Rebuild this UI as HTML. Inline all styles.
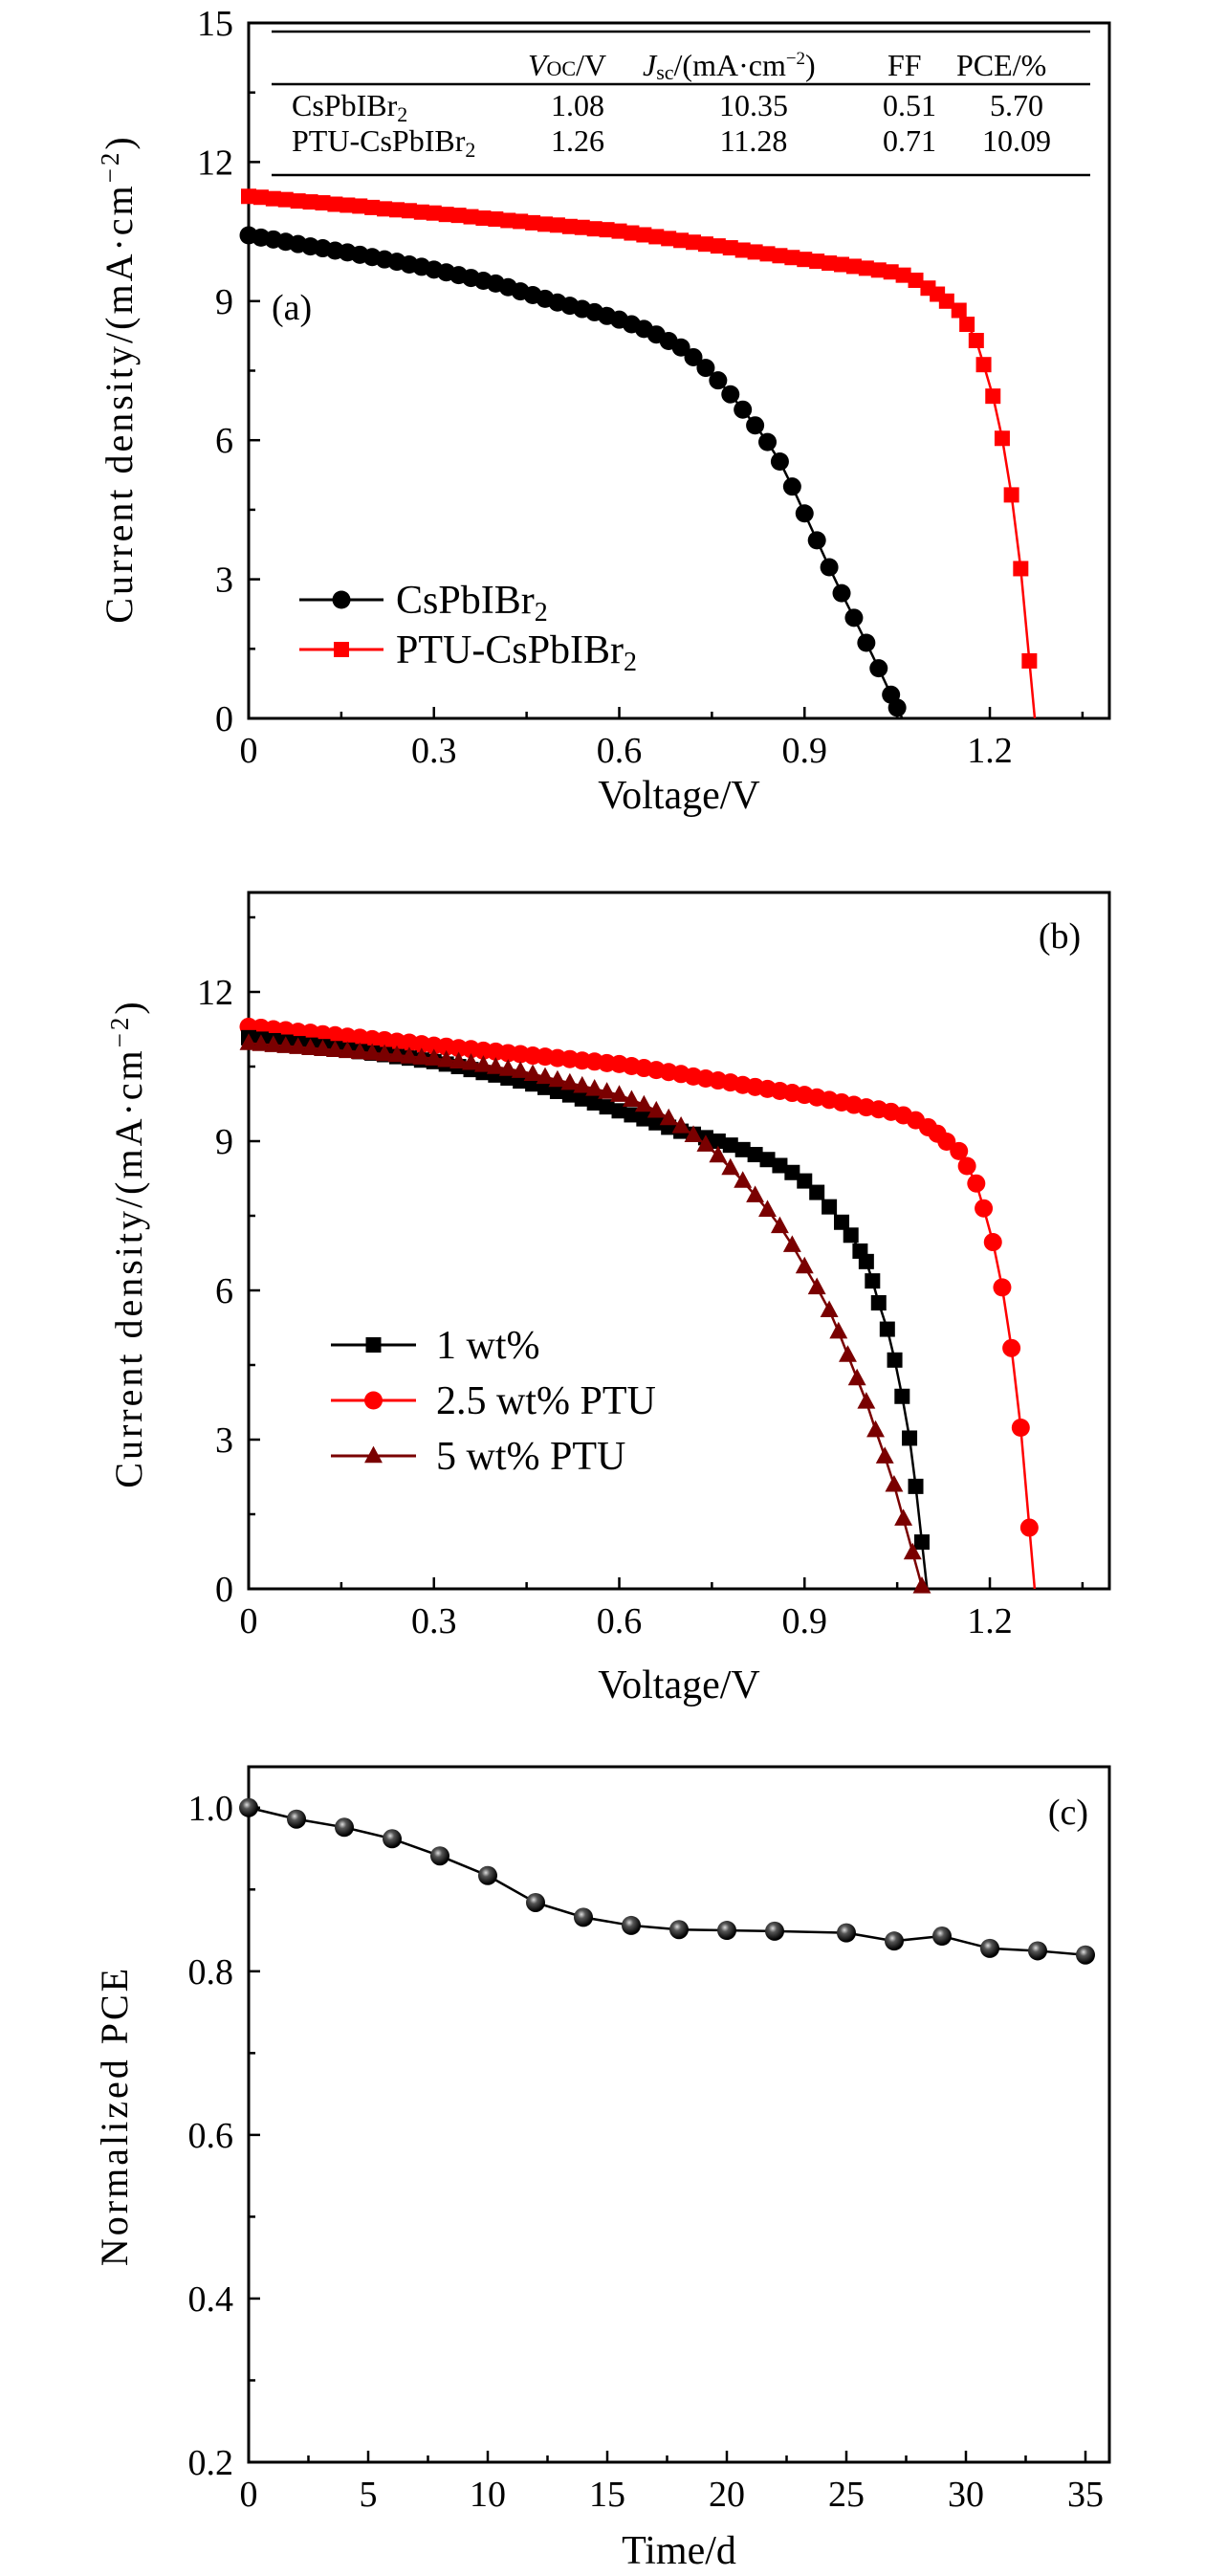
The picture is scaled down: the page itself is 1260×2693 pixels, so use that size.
<!DOCTYPE html>
<html><head><meta charset="utf-8"><style>
html,body{margin:0;padding:0;background:#fff;}
svg{display:block;font-family:"Liberation Serif",serif;}
text{fill:#000;}
</style></head><body>
<svg id="fig" width="1260" height="2693" viewBox="0 0 1260 2693" xmlns="http://www.w3.org/2000/svg">
<defs>
<radialGradient id="ball" cx="0.4" cy="0.35" r="0.6">
<stop offset="0" stop-color="#ddd"/><stop offset="0.35" stop-color="#555"/><stop offset="1" stop-color="#000"/>
</radialGradient>
</defs>
</svg>
<script>
// ---------- Panel (a) data ----------
const aBlackV=[0,.02,.04,.06,.08,.10,.12,.14,.16,.18,.20,.22,.24,.26,.28,.30,.32,.34,.36,.38,.40,.42,.44,.46,.48,.50,.52,.54,.56,.58,.60,.62,.64,.66,.68,.70,.72,.74,.76,.78,.80,.82,.84,.86,.88,.90,.92,.94,.96,.98,1.00,1.02,1.04,1.05];
const aBlackJ=[10.42,10.37,10.33,10.28,10.23,10.18,10.14,10.09,10.05,10.0,9.95,9.90,9.85,9.79,9.74,9.68,9.62,9.56,9.50,9.44,9.38,9.30,9.21,9.13,9.05,8.97,8.90,8.83,8.76,8.68,8.60,8.50,8.40,8.28,8.14,8.00,7.79,7.56,7.29,6.99,6.66,6.32,5.96,5.54,5.00,4.42,3.84,3.26,2.70,2.17,1.63,1.08,0.51,0.23];
const aRedV=[0,.02,.04,.06,.08,.10,.12,.14,.16,.18,.20,.22,.24,.26,.28,.30,.32,.34,.36,.38,.40,.42,.44,.46,.48,.50,.52,.54,.56,.58,.60,.62,.64,.66,.68,.70,.72,.74,.76,.78,.80,.82,.84,.86,.88,.90,.92,.94,.96,.98,1.00,1.02,1.04,1.06,1.08,1.10,1.115,1.13,1.15,1.163,1.178,1.19,1.205,1.22,1.235,1.25,1.264];
const aRedJ=[11.26,11.24,11.21,11.19,11.16,11.14,11.12,11.09,11.07,11.05,11.02,10.99,10.97,10.95,10.92,10.90,10.87,10.85,10.82,10.79,10.77,10.74,10.72,10.69,10.66,10.64,10.61,10.59,10.56,10.54,10.51,10.47,10.43,10.39,10.35,10.31,10.27,10.23,10.19,10.15,10.10,10.06,10.02,9.98,9.94,9.90,9.86,9.82,9.79,9.75,9.71,9.67,9.63,9.56,9.45,9.28,9.15,9.0,8.8,8.5,8.15,7.63,6.95,6.04,4.82,3.23,1.24];
const aXTicks=[0,0.3,0.6,0.9,1.2];
const aXTickLabels=["0","0.3","0.6","0.9","1.2"];
const aYTicks=[0,3,6,9,12,15];
const aYTickLabels=["0","3","6","9","12","15"];
// ---------- Panel (b) data ----------
const b1V=[0,.02,.04,.06,.08,.10,.12,.14,.16,.18,.20,.22,.24,.26,.28,.30,.32,.34,.36,.38,.40,.42,.44,.46,.48,.50,.52,.54,.56,.58,.60,.62,.64,.66,.68,.70,.72,.74,.76,.78,.80,.82,.84,.86,.88,.90,.92,.94,.96,.975,.99,1.0,1.01,1.02,1.034,1.046,1.058,1.07,1.08,1.09];
const b1J=[11.08,11.05,11.02,10.99,10.96,10.93,10.90,10.86,10.83,10.80,10.77,10.74,10.70,10.67,10.63,10.60,10.55,10.50,10.44,10.38,10.33,10.27,10.21,10.15,10.08,10.00,9.93,9.85,9.77,9.69,9.61,9.53,9.45,9.37,9.28,9.20,9.14,9.07,9.00,8.92,8.83,8.73,8.63,8.51,8.37,8.20,7.97,7.68,7.37,7.11,6.79,6.58,6.19,5.75,5.22,4.6,3.87,3.03,2.06,0.94];
const b25V=aRedV;
const b25J=[11.30,11.28,11.25,11.23,11.20,11.18,11.15,11.13,11.10,11.08,11.05,11.03,11.00,10.98,10.95,10.92,10.90,10.87,10.85,10.82,10.80,10.77,10.75,10.72,10.70,10.67,10.65,10.62,10.60,10.57,10.55,10.51,10.47,10.43,10.39,10.35,10.30,10.26,10.22,10.18,10.13,10.09,10.05,10.01,9.97,9.93,9.88,9.83,9.78,9.73,9.68,9.64,9.59,9.52,9.42,9.28,9.15,8.99,8.8,8.5,8.15,7.65,6.97,6.06,4.84,3.24,1.23];
const b5V=[0,.02,.04,.06,.08,.10,.12,.14,.16,.18,.20,.22,.24,.26,.28,.30,.32,.34,.36,.38,.40,.42,.44,.46,.48,.50,.52,.54,.56,.58,.60,.62,.64,.66,.68,.70,.72,.74,.76,.78,.80,.82,.84,.86,.88,.90,.92,.94,.955,.97,.985,1.0,1.015,1.03,1.045,1.06,1.075,1.09];
const b5J=[10.97,10.95,10.93,10.91,10.89,10.87,10.85,10.83,10.81,10.79,10.77,10.75,10.73,10.70,10.68,10.66,10.63,10.60,10.57,10.53,10.49,10.45,10.41,10.35,10.29,10.23,10.17,10.11,10.05,9.99,9.93,9.83,9.73,9.61,9.46,9.30,9.12,8.93,8.71,8.46,8.20,7.91,7.62,7.29,6.91,6.48,6.06,5.60,5.17,4.70,4.23,3.76,3.19,2.66,2.09,1.41,0.73,0.05];
const bYTicks=[0,3,6,9,12];
const bYTickLabels=["0","3","6","9","12"];
// ---------- Panel (c) data ----------
const cDays=[0,2,4,6,8,10,12,14,16,18,20,22,25,27,29,31,33,35];
const cPCE=[1.0,0.986,0.976,0.962,0.941,0.917,0.884,0.866,0.856,0.851,0.850,0.849,0.847,0.837,0.843,0.828,0.825,0.820];
const cXTicks=[0,5,10,15,20,25,30,35];
const cXTickLabels=["0","5","10","15","20","25","30","35"];
const cYTicks=[0.2,0.4,0.6,0.8,1.0];
const cYTickLabels=["0.2","0.4","0.6","0.8","1.0"];

const NS="http://www.w3.org/2000/svg";
const svg=document.getElementById('fig');
function mk(tag,attrs,parent){const e=document.createElementNS(NS,tag);for(const k in attrs)e.setAttribute(k,attrs[k]);(parent||svg).appendChild(e);return e;}
function txt(s,attrs,parent){const e=mk('text',attrs,parent);e.textContent=s;return e;}

const L=260,R=1160;
function makeAxes(top,bot,xmin,xmax,ymin,ymax){
  return {x:v=>L+(v-xmin)/(xmax-xmin)*(R-L), y:v=>bot-(v-ymin)/(ymax-ymin)*(bot-top), top:top, bot:bot};
}
function frame(ax,name){
  const g=mk('g',{});
  
  
  mk('rect',{x:L,y:ax.top,width:R-L,height:ax.bot-ax.top,fill:'none',stroke:'#000','stroke-width':3},g);
  return g;
}
function xTicks(ax,ticks,labels,minor,name){
  const g=mk('g',{});
  
  
  ticks.forEach((t,i)=>{
    const x=ax.x(t);
    mk('line',{x1:x,x2:x,y1:ax.bot,y2:ax.bot-12,stroke:'#000','stroke-width':2.5},g);
    const tl=txt(labels[i],{x:x,y:ax.bot+46,'text-anchor':'middle','font-size':38},g);
    
    
  });
  minor.forEach(t=>{const x=ax.x(t);mk('line',{x1:x,x2:x,y1:ax.bot,y2:ax.bot-7,stroke:'#000','stroke-width':2.5},g);});
}
function yTicks(ax,ticks,labels,minor,name){
  const g=mk('g',{});
  
  
  ticks.forEach((t,i)=>{
    const y=ax.y(t);
    mk('line',{x1:L,x2:L+12,y1:y,y2:y,stroke:'#000','stroke-width':2.5},g);
    const tl=txt(labels[i],{x:L-16,y:y+13,'text-anchor':'end','font-size':38},g);
    
    
  });
  minor.forEach(t=>{const y=ax.y(t);mk('line',{x1:L,x2:L+7,y1:y,y2:y,stroke:'#000','stroke-width':2.5},g);});
}
function line(ax,V,J,color,extend,g){
  const pts=V.map((v,i)=>ax.x(v)+','+ax.y(J[i]));
  if(extend){const n=V.length;const v0=V[n-2],v1=V[n-1],j0=J[n-2],j1=J[n-1];const vz=v1+j1*(v1-v0)/(j0-j1);pts.push(ax.x(vz)+','+ax.y(0));}
  mk('polyline',{points:pts.join(' '),fill:'none',stroke:color,'stroke-width':2.5},g);
}
function marker(type,x,y,color,g,s){
  if(type==='circle') return mk('circle',{cx:x,cy:y,r:s,fill:color},g);
  if(type==='square') return mk('rect',{x:x-s,y:y-s,width:2*s,height:2*s,fill:color},g);
  if(type==='tri') return mk('polygon',{points:`${x},${y-s*1.15} ${x-s*1.05},${y+s*0.8} ${x+s*1.05},${y+s*0.8}`,fill:color},g);
}
function series(ax,V,J,color,type,size,name){
  const g=mk('g',{});
  
  
  line(ax,V,J,color,true,g);
  V.forEach((v,i)=>{const m=marker(type,ax.x(v),ax.y(J[i]),color,g,size);
    
    });
}
function legendEntry(x1,x2,y,color,type,size,label,tx,fs){
  const g=mk('g',{});
  
  
  mk('line',{x1:x1,x2:x2,y1:y,y2:y,stroke:color,'stroke-width':3},g);
  marker(type,(x1+x2)/2,y,color,g,size);
  const t=txt('',{x:tx,y:y+14,'font-size':fs},g);
  t.innerHTML=label;
  return g;
}
function rotTitle(s,x,y,name){
  const t=txt(s,{x:x,y:y,'text-anchor':'middle','font-size':40,'letter-spacing':3,transform:`rotate(-90 ${x} ${y})`});
  
  
  return t;
}

// ===== Panel (a) =====
const axA=makeAxes(24,751,0,1.3935,0,15);
frame(axA,'panel-a');
xTicks(axA,aXTicks,aXTickLabels,[0.15,0.45,0.75,1.05,1.35],'panel-a');
yTicks(axA,aYTicks,aYTickLabels,[1.5,4.5,7.5,10.5,13.5],'panel-a');
series(axA,aRedV,aRedJ,'#ff0000','square',8,'ptu-cspbibr2-series');
series(axA,aBlackV,aBlackJ,'#000','circle',9.5,'cspbibr2-series');
// table
const tg=mk('g',{});


[33,88,183].forEach(y=>mk('line',{x1:284,x2:1140,y1:y,y2:y,stroke:'#000','stroke-width':2.5},tg));
const th=txt('',{x:0,y:79,'font-size':32},tg);
th.innerHTML='<tspan x="552" font-style="italic">V</tspan><tspan font-size="22">OC</tspan><tspan>/V</tspan><tspan x="672" font-style="italic">J</tspan><tspan font-size="22" dy="4">sc</tspan><tspan dy="-4">/(mA·cm</tspan><tspan font-size="19" dy="-12">−2</tspan><tspan dy="12">)</tspan><tspan x="928">FF</tspan><tspan x="1000">PCE/%</tspan>';
const rowsA=[["CsPbIBr","1.08","10.35","0.51","5.70",121],["PTU-CsPbIBr","1.26","11.28","0.71","10.09",158]];
rowsA.forEach(r=>{
  const t=txt('',{x:305,y:r[5],'font-size':32},tg);
  t.innerHTML=r[0]+'<tspan font-size="22" dy="6">2</tspan>';
  txt(r[1],{x:604,y:r[5],'font-size':32,'text-anchor':'middle'},tg);
  txt(r[2],{x:788,y:r[5],'font-size':32,'text-anchor':'middle'},tg);
  txt(r[3],{x:951,y:r[5],'font-size':32,'text-anchor':'middle'},tg);
  txt(r[4],{x:1063,y:r[5],'font-size':32,'text-anchor':'middle'},tg);
});
const la=txt('(a)',{x:284,y:334,'font-size':38});


legendEntry(313,401,627,'#000','circle',9.5,'CsPbIBr<tspan font-size="28" dy="8">2</tspan>',414,42);
legendEntry(313,401,679,'#ff0000','square',8,'PTU-CsPbIBr<tspan font-size="28" dy="8">2</tspan>',414,42);
const xa=txt('Voltage/V',{x:710,y:845,'text-anchor':'middle','font-size':42});


const ya=rotTitle('',138,396,'panel-a-y-axis-title');
ya.innerHTML='Current density/(mA·cm<tspan font-size="27" dy="-14">−2</tspan><tspan dy="14">)</tspan>';

// ===== Panel (b) =====
const axB=makeAxes(933,1661,0,1.3935,0,14);
frame(axB,'panel-b');
xTicks(axB,aXTicks,aXTickLabels,[0.15,0.45,0.75,1.05,1.35],'panel-b');
yTicks(axB,bYTicks,bYTickLabels,[1.5,4.5,7.5,10.5,13.5],'panel-b');
series(axB,b25V,b25J,'#ff0000','circle',9.5,'wt2.5-ptu-series');
series(axB,b1V,b1J,'#000','square',8,'wt1-series');
series(axB,b5V,b5J,'#7a0000','tri',9,'wt5-ptu-series');
const lb=txt('(b)',{x:1108,y:991,'text-anchor':'middle','font-size':38});


legendEntry(346,435,1406,'#000','square',8,'1 wt%',456,42);
legendEntry(346,435,1464,'#ff0000','circle',9.5,'2.5 wt% PTU',456,42);
legendEntry(346,435,1522,'#7a0000','tri',9,'5 wt% PTU',456,42);
const xb=txt('Voltage/V',{x:710,y:1775,'text-anchor':'middle','font-size':42});


const yb=rotTitle('',148,1300,'panel-b-y-axis-title');
yb.innerHTML='Current density/(mA·cm<tspan font-size="27" dy="-14">−2</tspan><tspan dy="14">)</tspan>';

// ===== Panel (c) =====
const axC=makeAxes(1847,2574,0,36,0.2,1.05);
frame(axC,'panel-c');
xTicks(axC,cXTicks,cXTickLabels,[2.5,7.5,12.5,17.5,22.5,27.5,32.5],'panel-c');
yTicks(axC,cYTicks,cYTickLabels,[0.3,0.5,0.7,0.9],'panel-c');
const cg=mk('g',{});


mk('polyline',{points:cDays.map((d,i)=>axC.x(d)+','+axC.y(cPCE[i])).join(' '),fill:'none',stroke:'#000','stroke-width':2.5},cg);
cDays.forEach((d,i)=>{
  const c=mk('circle',{cx:axC.x(d),cy:axC.y(cPCE[i]),r:10,fill:'url(#ball)'},cg);
  
  
});
const lc=txt('(c)',{x:1117,y:1907,'text-anchor':'middle','font-size':38});


const xc=txt('Time/d',{x:710,y:2680,'text-anchor':'middle','font-size':42});


rotTitle('Normalized PCE',133,2212,'panel-c-y-axis-title');
</script>
</body></html>
